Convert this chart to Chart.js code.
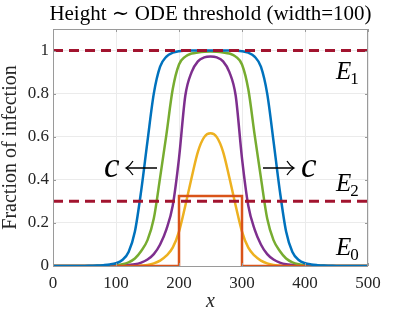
<!DOCTYPE html>
<html>
<head>
<meta charset="utf-8">
<script src="https://cdn.jsdelivr.net/npm/chart.js@4.4.1/dist/chart.umd.min.js"></script>
<style>
  html, body { margin: 0; padding: 0; background: #fff; }
  #wrap { width: 407px; height: 317px; }
</style>
</head>
<body>
<div id="wrap"><canvas id="chart" width="407" height="317"></canvas></div>
<script>
// sample positions along x (every 10 units)
const xs = [0,10,20,30,40,50,60,70,80,90,100,110,120,130,140,150,160,170,180,190,200,
  210,220,230,240,250,260,270,280,290,300,310,320,330,340,350,360,370,380,390,400,
  410,420,430,440,450,460,470,480,490,500];

const blueVals = [0,0,0,0,0,0,0.001,0.002,0.004,0.007,0.013,0.028,0.065,0.16,0.35,0.58,0.8,0.925,0.972,0.99,0.997,
  0.999,1,1,1,1,1,1,1,0.999,0.997,0.99,0.972,0.925,0.8,0.58,0.35,0.16,0.065,0.028,0.013,
  0.007,0.004,0.002,0.001,0,0,0,0,0,0];
const greenVals = [0,0,0,0,0,0,0,0.001,0.001,0.002,0.004,0.008,0.017,0.035,0.07,0.12,0.22,0.41,0.61,0.82,0.935,
  0.972,0.986,0.991,0.994,0.995,0.994,0.991,0.986,0.972,0.935,0.82,0.61,0.41,0.22,0.12,0.07,0.035,0.017,0.008,0.004,
  0.002,0.001,0.001,0,0,0,0,0,0,0];
const purpleVals = [0,0,0,0,0,0,0,0,0,0,0.001,0.003,0.005,0.008,0.016,0.03,0.055,0.1,0.17,0.28,0.5,
  0.79,0.9,0.95,0.968,0.972,0.968,0.95,0.9,0.79,0.5,0.28,0.17,0.1,0.055,0.03,0.016,0.008,0.005,0.003,0.001,
  0,0,0,0,0,0,0,0,0,0];
const yellowVals = [0,0,0,0,0,0,0,0,0,0,0,0,0,0,0.002,0.005,0.012,0.025,0.048,0.085,0.16,
  0.28,0.41,0.53,0.598,0.616,0.598,0.53,0.41,0.28,0.16,0.085,0.048,0.025,0.012,0.005,0.002,0,0,0,0,
  0,0,0,0,0,0,0,0,0,0];
// initial condition: step of height ~0.325 on [200, 300]
const stepX = [0, 200, 200, 300, 300, 500];
const stepY = [0, 0, 0.325, 0.325, 0, 0];
// equilibria drawn as dashed lines
const thresholds = [1, 0.3];

const xTicks = [0, 100, 200, 300, 400, 500];
const yTicks = [0, 0.2, 0.4, 0.6, 0.8, 1];

const serif = '"Liberation Serif", "DejaVu Serif", serif';

function pts(xv, yv) {
  return xv.map((x, i) => ({ x: x, y: yv[i] }));
}

function curve(vals, color) {
  return {
    data: pts(xs, vals),
    borderColor: color,
    borderWidth: 2.5,
    pointRadius: 0,
    fill: false,
    cubicInterpolationMode: 'monotone'
  };
}

const dashed = thresholds.map(t => ({
  data: [{ x: 0, y: t }, { x: 500, y: t }],
  borderColor: '#A2142F',
  borderWidth: 3,
  borderDash: [10, 6],
  pointRadius: 0,
  fill: false
}));

// frame, inward ticks and labels in the plot
const decor = {
  id: 'decor',
  afterDraw(chart) {
    const ctx = chart.ctx;
    const a = chart.chartArea;
    const xs_ = chart.scales.x, ys_ = chart.scales.y;
    ctx.save();

    ctx.strokeStyle = '#9a9a9a';
    ctx.lineWidth = 1;
    ctx.strokeRect(a.left + 0.5, a.top + 0.5, a.right - a.left - 1, a.bottom - a.top);
    ctx.beginPath();
    xTicks.forEach(v => {
      const px = Math.round(xs_.getPixelForValue(v)) + 0.5;
      ctx.moveTo(px, a.bottom); ctx.lineTo(px, a.bottom - 3);
      ctx.moveTo(px, a.top); ctx.lineTo(px, a.top + 3);
    });
    yTicks.forEach(v => {
      const py = Math.round(ys_.getPixelForValue(v)) + 0.5;
      ctx.moveTo(a.left, py); ctx.lineTo(a.left + 3, py);
      ctx.moveTo(a.right, py); ctx.lineTo(a.right - 3, py);
    });
    ctx.stroke();

    ctx.fillStyle = '#000';
    // title
    ctx.font = '21px ' + serif;
    ctx.textAlign = 'center';
    ctx.textBaseline = 'alphabetic';
    ctx.fillText('Height \u223C ODE threshold (width=100)', (a.left + a.right) / 2, 20);

    // axis titles
    ctx.fillStyle = '#262626';
    ctx.font = 'italic 20px ' + serif;
    ctx.fillText('x', (a.left + a.right) / 2, 307);
    ctx.save();
    ctx.translate(16, (a.top + a.bottom) / 2);
    ctx.rotate(-Math.PI / 2);
    ctx.font = '20px ' + serif;
    ctx.fillText('Fraction of infection', 0, 0);
    ctx.restore();

    // equilibrium labels
    ctx.fillStyle = '#000';
    ctx.textAlign = 'left';
    const eq = [['1', 79, 84], ['2', 191, 196], ['0', 255, 260]];
    eq.forEach(e => {
      ctx.font = 'italic 25px ' + serif;
      ctx.fillText('E', 336, e[1]);
      const w = ctx.measureText('E').width;
      ctx.font = '17px ' + serif;
      ctx.fillText(e[0], 336 + w - 1, e[2]);
    });

    // wave speed labels
    ctx.font = 'italic 35px ' + serif;
    ctx.fillText('c', 104, 177);
    ctx.fillText('c', 301, 177);

    ctx.strokeStyle = '#000';
    ctx.lineWidth = 1.3;
    ctx.beginPath();
    // left arrow
    ctx.moveTo(126, 168); ctx.lineTo(157, 168);
    ctx.moveTo(133, 161); ctx.quadraticCurveTo(130, 166, 126, 168);
    ctx.quadraticCurveTo(130, 170, 133, 175);
    // right arrow
    ctx.moveTo(263, 168); ctx.lineTo(294, 168);
    ctx.moveTo(287, 161); ctx.quadraticCurveTo(290, 166, 294, 168);
    ctx.quadraticCurveTo(290, 170, 287, 175);
    ctx.stroke();

    ctx.restore();
  }
};

new Chart(document.getElementById('chart').getContext('2d'), {
  type: 'line',
  data: {
    datasets: [
      dashed[0],
      dashed[1],
      curve(blueVals, '#0072BD'),
      {
        data: pts(stepX, stepY),
        borderColor: '#D95319',
        borderWidth: 2.5,
        pointRadius: 0,
        fill: false,
        tension: 0
      },
      curve(greenVals, '#77AC30'),
      curve(purpleVals, '#7E2F8E'),
      curve(yellowVals, '#EDB120')
    ]
  },
  plugins: [decor],
  options: {
    responsive: false,
    animation: false,
    layout: { padding: { top: 29, right: 39, left: 0, bottom: 0 } },
    plugins: {
      legend: { display: false },
      title: { display: false },
      tooltip: { enabled: false }
    },
    scales: {
      x: {
        type: 'linear',
        min: 0,
        max: 500,
        afterFit(scale) { scale.height = 51; },
        afterBuildTicks(scale) { scale.ticks = xTicks.map(v => ({ value: v })); },
        border: { display: false },
        grid: { color: '#ebebeb', drawTicks: false },
        ticks: {
          color: '#262626',
          padding: 7,
          maxRotation: 0,
          font: { family: serif, size: 17 }
        }
      },
      y: {
        type: 'linear',
        min: 0,
        max: 1.1,
        afterFit(scale) { scale.width = 53; },
        afterBuildTicks(scale) { scale.ticks = yTicks.map(v => ({ value: v })); },
        border: { display: false },
        grid: { color: '#ebebeb', drawTicks: false },
        ticks: {
          color: '#262626',
          padding: 4,
          font: { family: serif, size: 17 },
          callback: v => (v === 0 || v === 1) ? String(v) : v.toFixed(1)
        }
      }
    }
  }
});
</script>
</body>
</html>
